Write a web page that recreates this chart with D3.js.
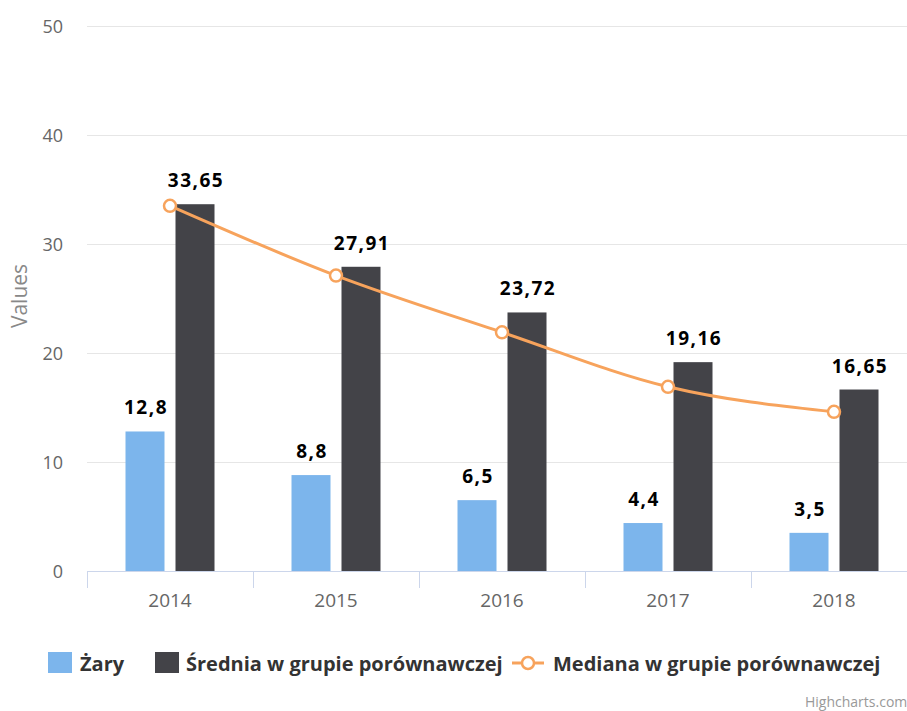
<!DOCTYPE html>
<html>
<head>
<meta charset="utf-8">
<script src="https://cdn.jsdelivr.net/npm/d3@7"></script>
<style>
  body { margin: 0; background: #fff; }
  svg { font-family: 'Open Sans', sans-serif; display: block; }
</style>
</head>
<body>
<div id="chart"></div>
<script>
// chart data
var years = ['2014', '2015', '2016', '2017', '2018']
var zary = [12.8, 8.8, 6.5, 4.4, 3.5]
var srednia = [33.65, 27.91, 23.72, 19.16, 16.65]
var mediana = [33.5, 27.1, 21.9, 16.9, 14.6]
var yTicks = [0, 10, 20, 30, 40, 50]

var COLOR = { BLUE: '#7cb5ec', DARK: '#434348', ORANGE: '#f7a35c', GRID: '#e6e6e6', AXIS: '#ccd6eb', LABEL: '#666666' }

var width = 907
var height = 711
var plot = { left: 87, right: 917, top: 26, bottom: 571 }

var svg = d3.select('#chart').append('svg')
  .attr('width', width)
  .attr('height', height)

var x = d3.scaleBand().domain(years).range([plot.left, plot.right])
var y = d3.scaleLinear().domain([0, 50]).range([plot.bottom, plot.top])

var inner = d3.scaleBand().domain([0, 1]).range([0, 89]).paddingInner(0.22)
var groupOffset = (x.bandwidth() - 89) / 2

// grid lines
svg.append('g').selectAll('line').data(yTicks.slice(1)).enter().append('line')
  .attr('x1', plot.left).attr('x2', plot.right)
  .attr('y1', d => y(d) + 0.5).attr('y2', d => y(d) + 0.5)
  .attr('stroke', COLOR.GRID)

// y labels
svg.append('g').selectAll('text').data(yTicks).enter().append('text')
  .attr('x', 63).attr('y', d => y(d) + 7)
  .attr('text-anchor', 'end')
  .style('font-size', '18px').style('fill', COLOR.LABEL)
  .text(d => d)

svg.append('text')
  .attr('transform', 'translate(27,296) rotate(-90)')
  .attr('text-anchor', 'middle')
  .style('font-size', '21px').style('fill', '#888')
  .text('Values')

// x axis
svg.append('line')
  .attr('x1', plot.left).attr('x2', plot.right)
  .attr('y1', plot.bottom + 0.5).attr('y2', plot.bottom + 0.5)
  .attr('stroke', COLOR.AXIS)

svg.append('g').selectAll('line').data(years).enter().append('line')
  .attr('x1', d => x(d) + 0.5).attr('x2', d => x(d) + 0.5)
  .attr('y1', plot.bottom).attr('y2', plot.bottom + 17)
  .attr('stroke', COLOR.AXIS)

svg.append('g').selectAll('text').data(years).enter().append('text')
  .attr('x', d => x(d) + x.bandwidth() / 2).attr('y', 607)
  .attr('text-anchor', 'middle')
  .style('font-size', '19px').style('fill', COLOR.LABEL)
  .text(d => d)

// bars
var series = [
  { values: zary, color: COLOR.BLUE },
  { values: srednia, color: COLOR.DARK }
]

series.forEach((s, si) => {
  svg.append('g').selectAll('rect').data(s.values).enter().append('rect')
    .attr('x', (d, i) => x(years[i]) + groupOffset + inner(si))
    .attr('y', d => y(d))
    .attr('width', inner.bandwidth())
    .attr('height', d => y(0) - y(d))
    .attr('fill', s.color)

  svg.append('g').selectAll('text').data(s.values).enter().append('text')
    .attr('x', (d, i) => x(years[i]) + groupOffset + inner(si) + inner.bandwidth() / 2 + 1)
    .attr('y', d => y(d) - 17)
    .attr('text-anchor', 'middle')
    .style('font-size', '19px').style('font-weight', 'bold').style('fill', '#000')
    .style('letter-spacing', '1.5px')
    .text(d => String(d).replace('.', ','))
})

// median spline
var cx = (d, i) => x(years[i]) + x.bandwidth() / 2
var line = d3.line().x(cx).y(d => y(d)).curve(d3.curveMonotoneX)

svg.append('path').datum(mediana)
  .attr('d', line)
  .attr('fill', 'none')
  .attr('stroke', COLOR.ORANGE)
  .attr('stroke-width', 3)

svg.append('g').selectAll('circle').data(mediana).enter().append('circle')
  .attr('cx', cx).attr('cy', d => y(d))
  .attr('r', 6)
  .attr('fill', '#fff')
  .attr('stroke', COLOR.ORANGE)
  .attr('stroke-width', 2.5)

// legend
var legend = svg.append('g').style('font-size', '20px').style('font-weight', 'bold').style('fill', '#333')

legend.append('rect').attr('x', 48).attr('y', 652).attr('width', 24).attr('height', 21).attr('fill', COLOR.BLUE)
legend.append('text').attr('x', 80).attr('y', 671).text('Żary')

legend.append('rect').attr('x', 155).attr('y', 652).attr('width', 24).attr('height', 21).attr('fill', COLOR.DARK)
legend.append('text').attr('x', 186).attr('y', 671).text('Średnia w grupie porównawczej')

legend.append('line').attr('x1', 512).attr('x2', 544).attr('y1', 663).attr('y2', 663)
  .attr('stroke', COLOR.ORANGE).attr('stroke-width', 3)
legend.append('circle').attr('cx', 528).attr('cy', 663).attr('r', 6)
  .attr('fill', '#fff').attr('stroke', COLOR.ORANGE).attr('stroke-width', 2.5)
legend.append('text').attr('x', 553).attr('y', 671).text('Mediana w grupie porównawczej')

// credits
svg.append('text')
  .attr('x', 805).attr('y', 707)
  .style('font-size', '14px').style('fill', '#999')
  .text('Highcharts.com')
</script>
</body>
</html>
